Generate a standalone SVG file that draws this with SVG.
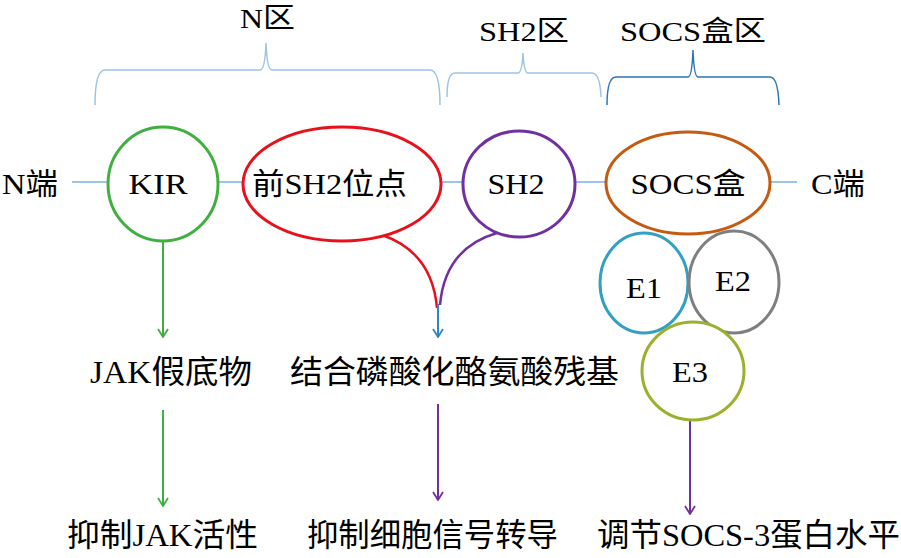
<svg xmlns="http://www.w3.org/2000/svg" width="901" height="558" viewBox="0 0 901 558">
<style>
text{font-family:"Liberation Serif","Noto Sans CJK SC",serif;fill:#000;}
.lbl{font-size:30px;text-anchor:middle;}
.big{font-size:32px;}
.axis{stroke:#9dc3e6;stroke-width:2;fill:none;}
.brace{stroke:#9dc3e6;stroke-width:1.5;fill:none;}
.node{fill:#fff;stroke-width:3;}
</style>
<defs>
<marker id="ag" viewBox="0 0 12 12" refX="11" refY="6" markerWidth="12" markerHeight="12" markerUnits="userSpaceOnUse" orient="auto">
<path d="M3 1 L11 6 L3 11" fill="none" stroke="#3fb03f" stroke-width="1.8"/>
</marker>
<marker id="ap" viewBox="0 0 12 12" refX="11" refY="6" markerWidth="12" markerHeight="12" markerUnits="userSpaceOnUse" orient="auto">
<path d="M3 1 L11 6 L3 11" fill="none" stroke="#7030a0" stroke-width="1.8"/>
</marker>
<marker id="ab" viewBox="0 0 12 12" refX="11" refY="6" markerWidth="12" markerHeight="12" markerUnits="userSpaceOnUse" orient="auto">
<path d="M3 1 L11 6 L3 11" fill="none" stroke="#2e86c8" stroke-width="1.8"/>
</marker>
</defs>

<g id="regions">
<path class="brace" d="M95 105 Q95 70 105 70 L260 70 Q265 70 266 43 Q267 70 272 70 L430 70 Q440 70 440 105"/>
<path class="brace" d="M447 97 Q447 73 455 73 L518 73 Q522 73 523 53 Q524 73 528 73 L592 73 Q600 73 601 97"/>
<path class="brace" d="M607 105 Q607 77 616 77 L688 77 Q692 77 693 50 Q694 77 698 77 L770 77 Q778 77 779 105" style="stroke:#2e75b6"/>
<text x="240" y="28" font-size="28" textLength="55" lengthAdjust="spacingAndGlyphs">N区</text>
<text x="479" y="41" font-size="28" textLength="90" lengthAdjust="spacingAndGlyphs">SH2区</text>
<text x="620" y="41" font-size="28" textLength="146" lengthAdjust="spacingAndGlyphs">SOCS盒区</text>
</g>

<g id="connectors">
<line class="axis" x1="72" y1="182" x2="108" y2="182"/>
<line class="axis" x1="218" y1="182" x2="243" y2="182"/>
<line class="axis" x1="441" y1="182" x2="463" y2="182"/>
<line class="axis" x1="576" y1="182" x2="607" y2="182"/>
<line class="axis" x1="771" y1="182" x2="797" y2="182"/>
<line x1="163" y1="241" x2="163" y2="337" stroke="#3fb03f" stroke-width="2" marker-end="url(#ag)"/>
<line x1="163" y1="410" x2="163" y2="506" stroke="#3fb03f" stroke-width="2" marker-end="url(#ag)"/>
<path d="M382 235 Q432 252 437 308" fill="none" stroke="#e8101a" stroke-width="2.5"/>
<path d="M497 233 Q445 248 440 305" fill="none" stroke="#7030a0" stroke-width="2.5"/>
<line x1="438" y1="304" x2="438" y2="337" stroke="#2e86c8" stroke-width="2" marker-end="url(#ab)"/>
<line x1="438" y1="404" x2="438" y2="500" stroke="#7030a0" stroke-width="2" marker-end="url(#ap)"/>
<line x1="690" y1="420" x2="690" y2="514" stroke="#7030a0" stroke-width="2" marker-end="url(#ap)"/>
</g>

<g id="n-term"><text x="2" y="194" font-size="30" textLength="56" lengthAdjust="spacingAndGlyphs">N端</text></g>
<g id="c-term"><text x="811" y="194" font-size="30" textLength="54" lengthAdjust="spacingAndGlyphs">C端</text></g>

<g id="kir">
<ellipse class="node" cx="163" cy="184" rx="55" ry="57" stroke="#3fb03f"/>
<text class="lbl" x="158" y="194" textLength="59" lengthAdjust="spacingAndGlyphs">KIR</text>
</g>
<g id="pre-sh2">
<ellipse class="node" cx="342" cy="184" rx="99" ry="57" stroke="#e8101a"/>
<text x="252" y="194" font-size="30" textLength="155" lengthAdjust="spacingAndGlyphs">前SH2位点</text>
</g>
<g id="sh2">
<ellipse class="node" cx="519" cy="184" rx="56" ry="53" stroke="#7030a0"/>
<text class="lbl" x="516" y="194" textLength="57" lengthAdjust="spacingAndGlyphs">SH2</text>
</g>
<g id="socs-box">
<ellipse class="node" cx="688" cy="183" rx="82" ry="51" stroke="#c55a11"/>
<text class="lbl" x="688" y="194" textLength="115" lengthAdjust="spacingAndGlyphs">SOCS盒</text>
</g>
<g id="e1">
<ellipse class="node" cx="644" cy="283" rx="44" ry="50" stroke="#31a0c3"/>
<text class="lbl" x="644" y="298" textLength="36" lengthAdjust="spacingAndGlyphs">E1</text>
</g>
<g id="e2">
<ellipse class="node" cx="734" cy="282" rx="45" ry="51" stroke="#7f7f7f"/>
<text class="lbl" x="733" y="291" textLength="36" lengthAdjust="spacingAndGlyphs">E2</text>
</g>
<g id="e3">
<ellipse class="node" cx="693" cy="371" rx="51" ry="49" stroke="#9bb02e"/>
<text class="lbl" x="690" y="382" textLength="36" lengthAdjust="spacingAndGlyphs">E3</text>
</g>

<g id="jak-pseudo"><text class="big" x="90" y="383" textLength="162" lengthAdjust="spacingAndGlyphs">JAK假底物</text></g>
<g id="bind-ptyr"><text class="big" x="290" y="383" textLength="329" lengthAdjust="spacingAndGlyphs">结合磷酸化酪氨酸残基</text></g>
<g id="inhibit-jak"><text class="big" x="67" y="546" textLength="191" lengthAdjust="spacingAndGlyphs">抑制JAK活性</text></g>
<g id="inhibit-signal"><text class="big" x="307" y="546" textLength="251" lengthAdjust="spacingAndGlyphs">抑制细胞信号转导</text></g>
<g id="regulate-socs3"><text class="big" x="597" y="546" textLength="303" lengthAdjust="spacingAndGlyphs">调节SOCS-3蛋白水平</text></g>
</svg>
